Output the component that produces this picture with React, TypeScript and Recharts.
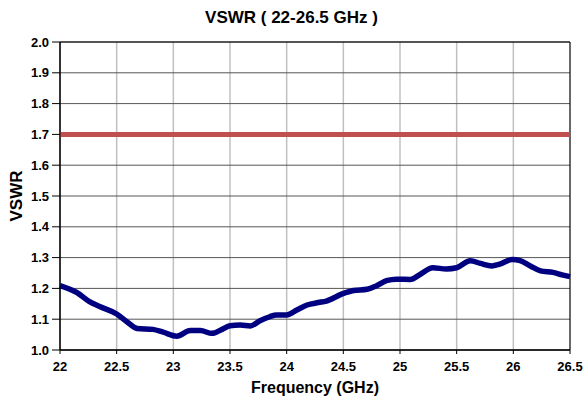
import React from 'react';
import {
  LineChart,
  Line,
  XAxis,
  YAxis,
  CartesianGrid,
  ReferenceLine,
  ReferenceArea,
  Label
} from 'recharts';

const freqs = [
  22.0, 22.15, 22.26, 22.35, 22.5, 22.59, 22.68, 22.82, 22.91, 23.03, 23.15,
  23.24, 23.34, 23.43, 23.5, 23.59, 23.68, 23.76, 23.85, 23.91, 24.0, 24.09,
  24.18, 24.28, 24.35, 24.49, 24.59, 24.71, 24.79, 24.88, 24.97, 25.09, 25.18,
  25.29, 25.41, 25.5, 25.62, 25.71, 25.81, 25.88, 25.99, 26.06, 26.15, 26.24,
  26.35, 26.43, 26.5
];
const vswr = [
  1.209, 1.186, 1.157, 1.141, 1.117, 1.092, 1.07, 1.067, 1.058, 1.045, 1.063,
  1.063, 1.054, 1.067, 1.079, 1.081, 1.078, 1.094, 1.108, 1.114, 1.114, 1.13,
  1.146, 1.154, 1.159, 1.182, 1.193, 1.197, 1.208, 1.225, 1.23, 1.229, 1.246,
  1.267, 1.263, 1.267, 1.29, 1.281, 1.273, 1.279, 1.294, 1.29, 1.273, 1.257,
  1.252, 1.244, 1.238
];
const limit = 1.7;
const xTicks = [22, 22.5, 23, 23.5, 24, 24.5, 25, 25.5, 26, 26.5];
const yTicks = [1.0, 1.1, 1.2, 1.3, 1.4, 1.5, 1.6, 1.7, 1.8, 1.9, 2.0];

const data = freqs.map((f, i) => ({ f, v: vswr[i] }));

const font = 'Arial, "Liberation Sans", sans-serif';
const tickStyle = { fontSize: 13, fontWeight: 700, fill: '#000', fontFamily: font };

export default function App() {
  return (
    <div style={{ position: 'absolute', left: 0, top: 0, width: 583, height: 400, background: '#fff' }}>
      <div
        style={{
          position: 'absolute',
          top: 8,
          left: 0,
          width: 583,
          textAlign: 'center',
          fontFamily: font,
          fontWeight: 700,
          fontSize: 17
        }}
      >
        VSWR ( 22-26.5 GHz )
      </div>
      <LineChart
        width={583}
        height={400}
        data={data}
        margin={{ top: 42, right: 13, left: 0, bottom: 0 }}
      >
        <CartesianGrid horizontal={false} stroke="#c0c0c0" strokeWidth={1.5} />
        <CartesianGrid vertical={false} stroke="#555" strokeWidth={1} />
        <ReferenceArea x1={22} x2={26.5} y1={1} y2={2} fill="none" stroke="#000" strokeWidth={1} ifOverflow="visible" />
        <XAxis
          dataKey="f"
          type="number"
          domain={[22, 26.5]}
          ticks={xTicks}
          height={50}
          axisLine={{ stroke: '#000' }}
          tickLine={{ stroke: '#000' }}
          tickSize={4}
          tickMargin={8}
          tick={tickStyle}
          interval={0}
        >
          <Label
            value="Frequency (GHz)"
            position="insideBottom"
            offset={7}
            style={{ fontSize: 16, fontWeight: 700, fill: '#000', fontFamily: font }}
          />
        </XAxis>
        <YAxis
          type="number"
          domain={[1, 2]}
          ticks={yTicks}
          width={60}
          axisLine={{ stroke: '#000' }}
          tickLine={{ stroke: '#000' }}
          tickSize={8}
          tickMargin={3}
          tick={tickStyle}
          tickFormatter={(t: number) => t.toFixed(1)}
          interval={0}
        >
          <Label
            value="VSWR"
            angle={-90}
            position="insideLeft"
            offset={16}
            style={{ fontSize: 17, fontWeight: 700, fill: '#000', fontFamily: font, textAnchor: 'middle' }}
          />
        </YAxis>
        <ReferenceLine y={limit} stroke="#c0504d" strokeWidth={5} />
        <Line
          type="monotone"
          dataKey="v"
          stroke="#000080"
          strokeWidth={5.5}
          dot={false}
          isAnimationActive={false}
        />
      </LineChart>
    </div>
  );
}
